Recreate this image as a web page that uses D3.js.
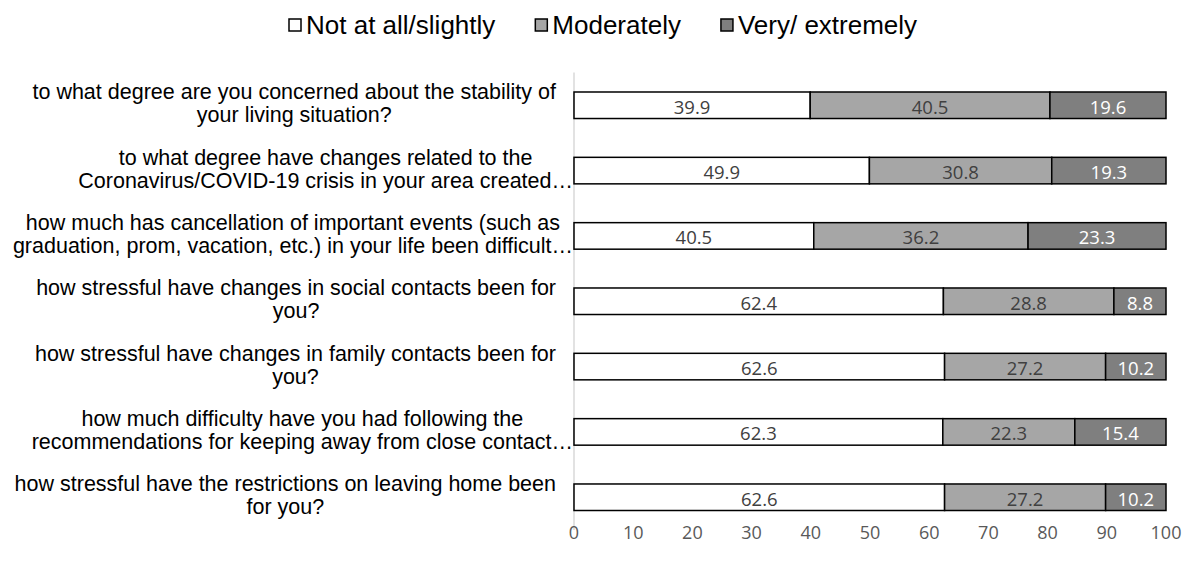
<!DOCTYPE html>
<html lang="en">
<head>
  <meta charset="UTF-8" />
  <title>Stacked bars</title>
  <script src="https://d3js.org/d3.v7.min.js"></script>
  <style>
    html, body {
      margin: 0;
      padding: 0;
      background: #ffffff;
      overflow: hidden;
    }
    svg { display: block; }
    .cat-label {
      font-family: 'Liberation Sans', Arial, sans-serif;
      font-size: 21.5px;
      fill: #000;
      text-anchor: middle;
    }
    .legend-text {
      font-family: 'Liberation Sans', Arial, sans-serif;
      font-size: 26px;
      fill: #000;
    }
    .val-label {
      font-family: 'Open Sans', sans-serif;
      font-size: 18.5px;
      text-anchor: middle;
      dominant-baseline: central;
    }
    .tick-label {
      font-family: 'Open Sans', sans-serif;
      font-size: 18px;
      fill: #595959;
      text-anchor: middle;
    }
  </style>
</head>
<body>
<svg width="1191" height="567"></svg>
<script>
const questions = [
  ["to what degree are you concerned about the stability of", "your living situation?"],
  ["to what degree have changes related to the", "Coronavirus/COVID-19 crisis in your area created\u2026"],
  ["how much has cancellation of important events (such as", "graduation, prom, vacation, etc.) in your life been difficult\u2026"],
  ["how stressful have changes in social contacts been for", "you?"],
  ["how stressful have changes in family contacts been for", "you?"],
  ["how much difficulty have you had following the", "recommendations for keeping away from close contact\u2026"],
  ["how stressful have the restrictions on leaving home been", "for you?"]
];
const seriesNames = ["Not at all/slightly", "Moderately", "Very/ extremely"];
const notAtAll = [39.9, 49.9, 40.5, 62.4, 62.6, 62.3, 62.6];
const moderately = [40.5, 30.8, 36.2, 28.8, 27.2, 22.3, 27.2];
const veryExtremely = [19.6, 19.3, 23.3, 8.8, 10.2, 15.4, 10.2];
const xTicks = [0, 10, 20, 30, 40, 50, 60, 70, 80, 90, 100];

const fills = ["#ffffff", "#a6a6a6", "#7f7f7f"];
const textFills = ["#404040", "#404040", "#ffffff"];

const svg = d3.select("svg");

const rows = questions.map((q, i) => ({
  idx: i,
  lines: q,
  [seriesNames[0]]: notAtAll[i],
  [seriesNames[1]]: moderately[i],
  [seriesNames[2]]: veryExtremely[i]
}));

const x = d3.scaleLinear().domain([0, 100]).range([574, 1166]);
const y = d3.scaleBand()
  .domain(rows.map(d => d.idx))
  .range([72.4, 530.1])
  .paddingInner(0.594)
  .paddingOuter(0.3);

const stacked = d3.stack().keys(seriesNames)(rows);

// vertical axis line
svg.append("line")
  .attr("x1", x(0)).attr("x2", x(0))
  .attr("y1", y.range()[0]).attr("y2", y.range()[1])
  .attr("stroke", "#d9d9d9")
  .attr("stroke-width", 1.5);

// bars
const layers = svg.selectAll("g.layer")
  .data(stacked)
  .enter()
  .append("g")
  .attr("class", "layer");

layers.selectAll("rect")
  .data((s, si) => s.map(d => ({ d, si })))
  .enter()
  .append("rect")
  .attr("x", o => x(o.d[0]))
  .attr("y", o => y(o.d.data.idx))
  .attr("width", o => x(o.d[1]) - x(o.d[0]))
  .attr("height", y.bandwidth())
  .attr("fill", o => fills[o.si])
  .attr("stroke", "#000")
  .attr("stroke-width", 1.5);

layers.selectAll("text")
  .data((s, si) => s.map(d => ({ d, si })))
  .enter()
  .append("text")
  .attr("class", "val-label")
  .attr("x", o => x((o.d[0] + o.d[1]) / 2))
  .attr("y", o => y(o.d.data.idx) + y.bandwidth() / 2 + 1)
  .attr("fill", o => textFills[o.si])
  .text(o => d3.format(".1f")(o.d.data[seriesNames[o.si]]));

// category labels: two centered lines, block pushed against the axis
rows.forEach(r => {
  const cy = y(r.idx) + y.bandwidth() / 2;
  const g = svg.append("g");
  const texts = r.lines.map((line, li) => g.append("text")
    .attr("class", "cat-label")
    .attr("y", cy - 6 + li * 23)
    .text(line));
  const widths = texts.map(t => t.node().getComputedTextLength());
  const maxW = d3.max(widths);
  const widest = r.lines[widths.indexOf(maxW)];
  const right = widest.endsWith("\u2026") ? 573 : 556;
  texts.forEach(t => t.attr("x", right - maxW / 2));
});

// x tick labels
svg.selectAll("text.tick-label")
  .data(xTicks)
  .enter()
  .append("text")
  .attr("class", "tick-label")
  .attr("x", d => x(d))
  .attr("y", 539)
  .text(d => d);

// legend
const legend = svg.append("g");
let lx = 288;
seriesNames.forEach((name, i) => {
  legend.append("rect")
    .attr("x", lx + 1).attr("y", 19)
    .attr("width", 12).attr("height", 12)
    .attr("fill", fills[i])
    .attr("stroke", "#000")
    .attr("stroke-width", 1.5);
  const t = legend.append("text")
    .attr("class", "legend-text")
    .attr("x", lx + 18)
    .attr("y", 34)
    .text(name);
  lx += 18 + t.node().getComputedTextLength() + 39;
});
</script>
</body>
</html>
